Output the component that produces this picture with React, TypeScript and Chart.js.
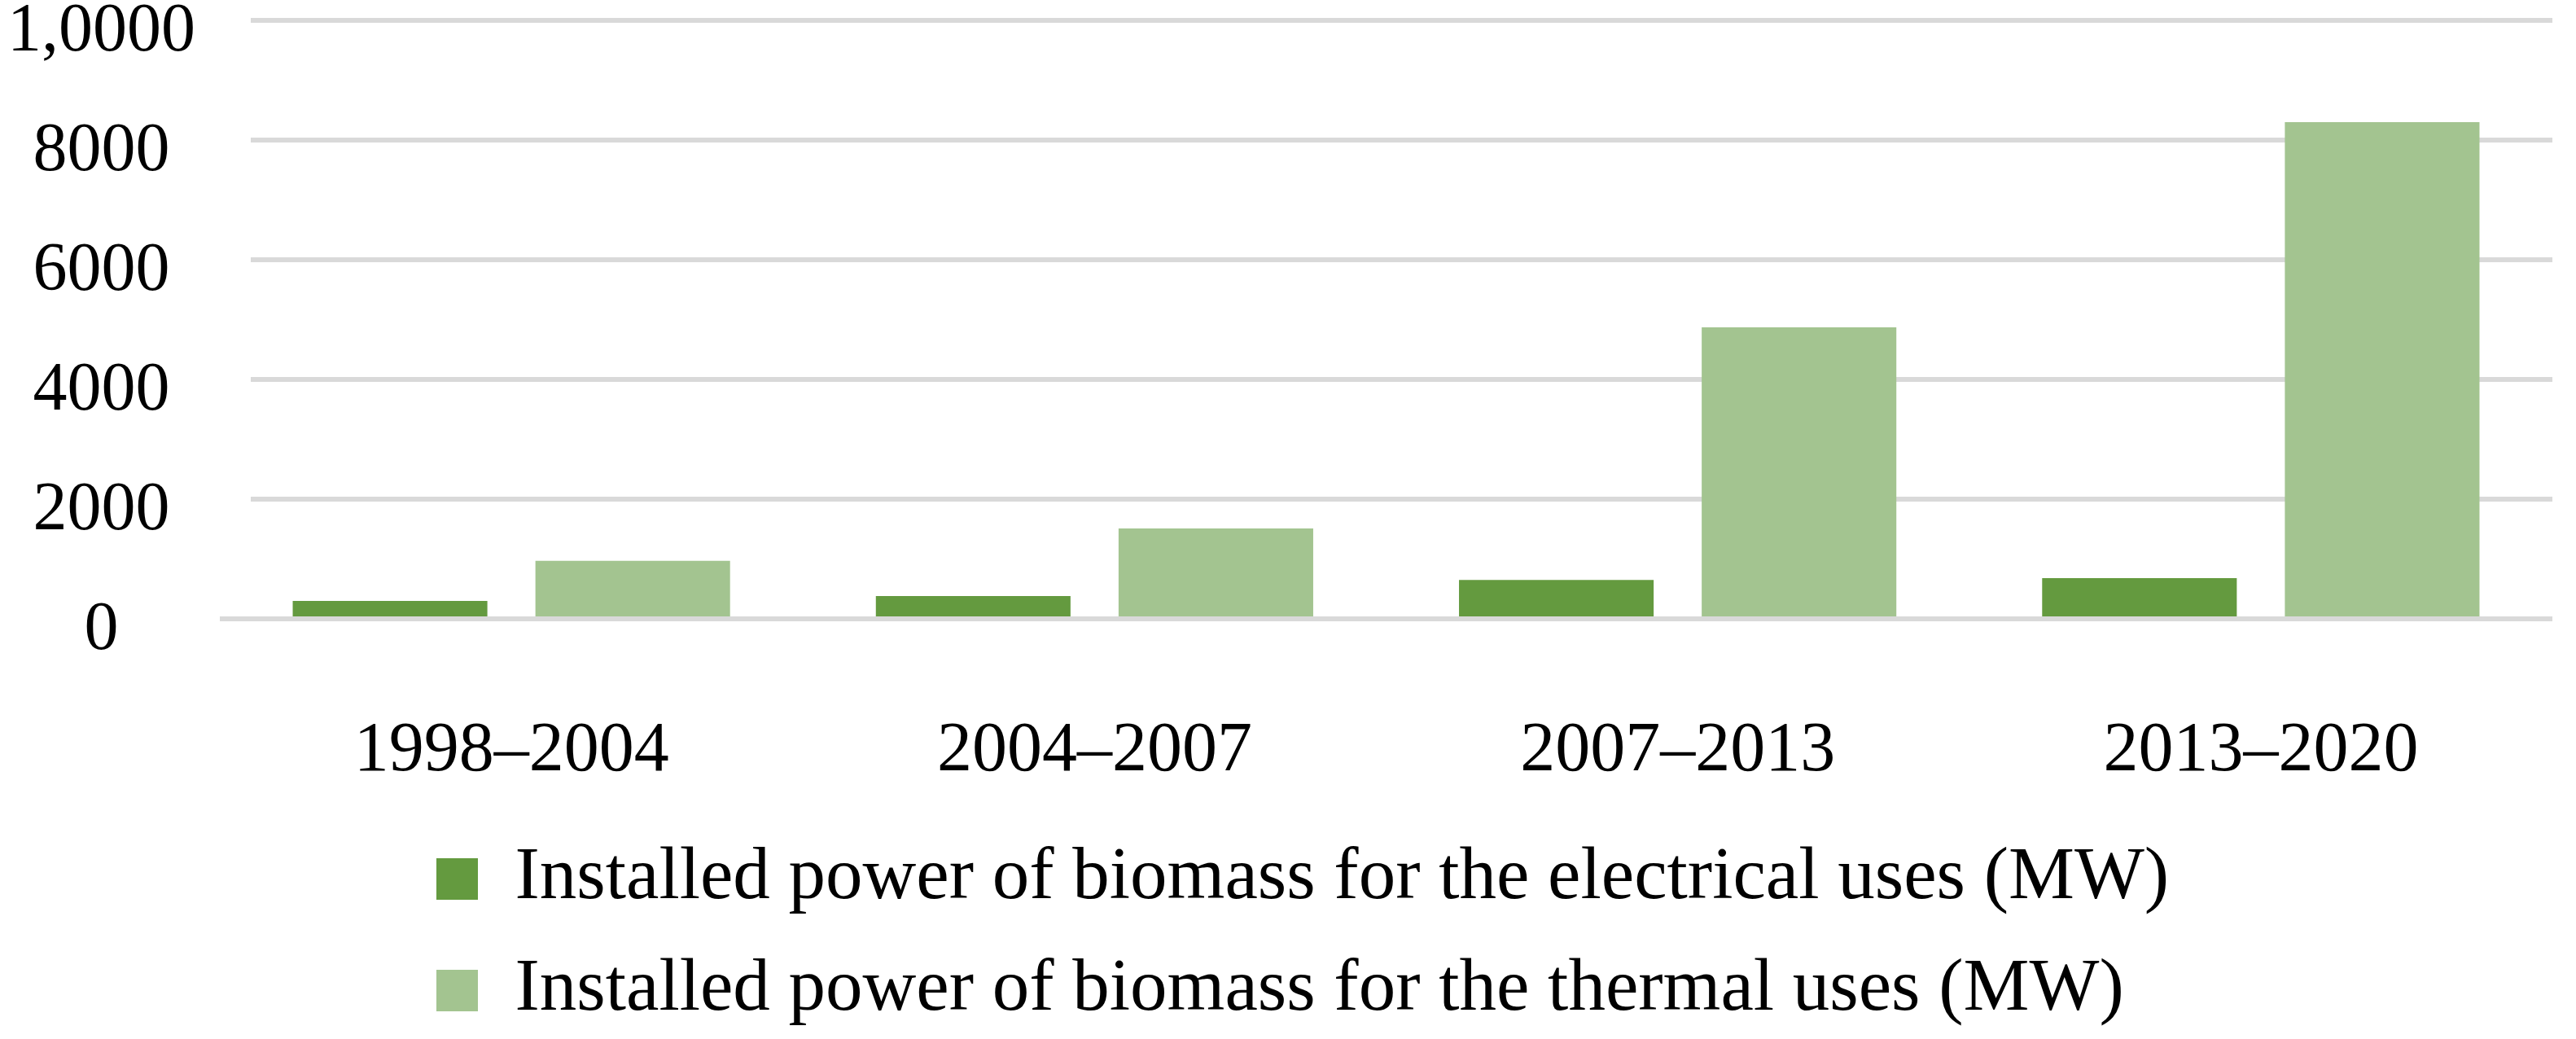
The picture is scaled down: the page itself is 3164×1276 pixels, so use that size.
import React, { useEffect, useRef } from "react";
import { Chart, registerables } from "chart.js";

Chart.register(...registerables);

// ---- data ----
const categories = ["1998–2004", "2004–2007", "2007–2013", "2013–2020"];
const electricalValues = [300, 380, 650, 680];
const thermalValues = [970, 1510, 4870, 8300];
const seriesLabels = [
  "Installed power of biomass for the electrical uses (MW)",
  "Installed power of biomass for the thermal uses (MW)",
];
const yTickLabels = ["0", "2000", "4000", "6000", "8000", "1,0000"];
const yMin = 0;
const yMax = 10000;
const yStep = 2000;

// ---- styles ----
const FONT = "'Liberation Serif', 'Times New Roman', serif";
const DARK_GREEN = "#649A3F";
const LIGHT_GREEN = "#A3C490";
const GRID = "#D9D9D9";
const GRID_INSET = 38;
const LEGEND_LEFT = 490;

const gridInsetPlugin = {
  id: "gridInset",
  beforeDatasetsDraw(chart: any) {
    const { ctx, chartArea } = chart;
    ctx.save();
    ctx.fillStyle = "#ffffff";
    const top = chartArea.top - 10;
    ctx.fillRect(chartArea.left - 1, top, GRID_INSET + 1, chartArea.bottom - 4 - top);
    ctx.restore();
  },
};

const legendShiftPlugin = {
  id: "legendShift",
  afterLayout(chart: any) {
    if (chart.legend) {
      chart.legend.left = LEGEND_LEFT;
    }
  },
};

export default function App() {
  const canvasRef = useRef<HTMLCanvasElement | null>(null);

  useEffect(() => {
    if (!canvasRef.current) return;
    const chart = new Chart(canvasRef.current, {
      type: "bar",
      data: {
        labels: categories,
        datasets: [
          {
            label: seriesLabels[0],
            data: electricalValues,
            backgroundColor: DARK_GREEN,
            borderWidth: 0,
            categoryPercentage: 0.8324,
            barPercentage: 0.802,
          },
          {
            label: seriesLabels[1],
            data: thermalValues,
            backgroundColor: LIGHT_GREEN,
            borderWidth: 0,
            categoryPercentage: 0.8324,
            barPercentage: 0.802,
          },
        ],
      },
      options: {
        animation: false,
        responsive: true,
        maintainAspectRatio: false,
        devicePixelRatio: 1,
        layout: { padding: { top: 25, right: 29, left: 0, bottom: 4 } },
        plugins: {
          legend: {
            position: "bottom",
            align: "start",
            labels: {
              boxWidth: 51,
              boxHeight: 51,
              padding: 46,
              color: "#000",
              font: { family: FONT, size: 91 },
            },
          },
          tooltip: { enabled: false },
        },
        scales: {
          x: {
            grid: { display: false },
            border: { display: false },
            ticks: {
              color: "#000",
              font: { family: FONT, size: 86 },
              padding: 104,
              maxRotation: 0,
              autoSkip: false,
            },
            afterFit: (s: any) => {
              s.height = 228;
            },
          },
          y: {
            min: yMin,
            max: yMax,
            border: { display: false },
            grid: { color: GRID, lineWidth: 6, drawTicks: false },
            ticks: {
              stepSize: yStep,
              padding: 30,
              labelOffset: 15,
              crossAlign: "center",
              color: "#000",
              font: { family: FONT, size: 84 },
              callback: (_v: any, i: number) => yTickLabels[i],
            },
            afterFit: (s: any) => {
              s.width = 270;
              s.paddingTop = 0;
              s.paddingBottom = 0;
            },
          },
        },
      },
      plugins: [gridInsetPlugin, legendShiftPlugin],
    } as any);
    return () => chart.destroy();
  }, []);

  return (
    <div
      style={{
        position: "fixed",
        left: 0,
        top: 0,
        width: "3164px",
        height: "1276px",
        background: "#ffffff",
      }}
    >
      <canvas ref={canvasRef} />
    </div>
  );
}
